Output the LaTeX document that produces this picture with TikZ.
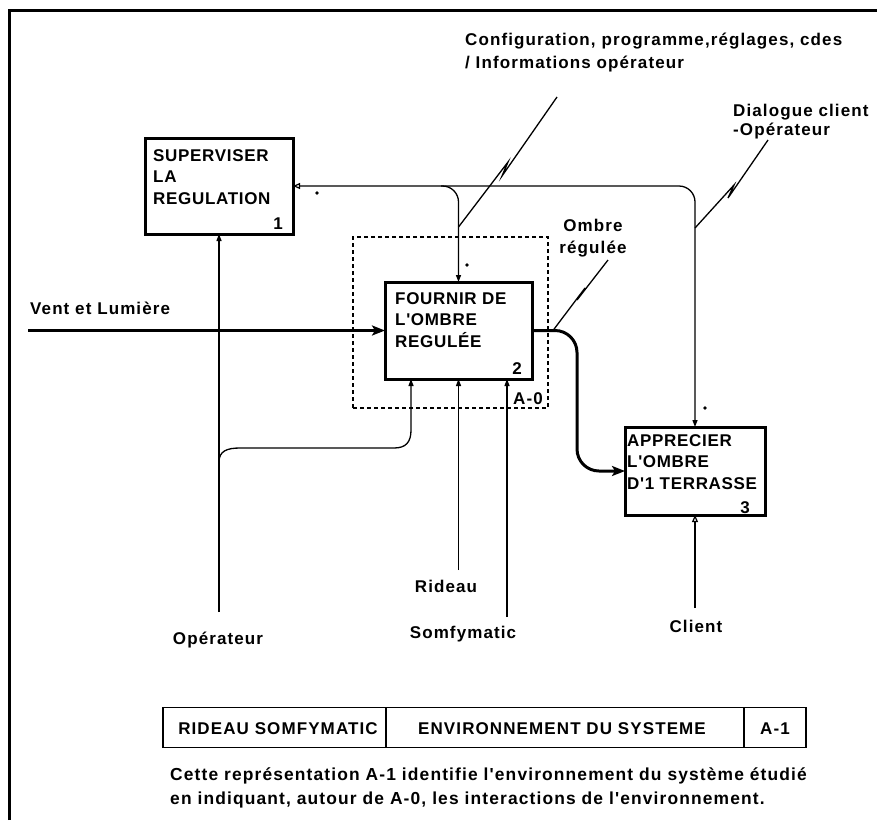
\documentclass[tikz,border=0pt]{standalone}
\usepackage{fontspec}
\setmainfont{Liberation Sans}
\newfontfamily\lf[LetterSpace=6.5]{Liberation Sans}
\newfontfamily\bxf[LetterSpace=4]{Liberation Sans}
\usetikzlibrary{arrows.meta,calc}
\begin{document}
\begin{tikzpicture}[x=1pt,y=-1pt,
  box/.style={draw,line width=3pt,inner sep=0pt,outer sep=0pt,fill=white},
  abox/.style={draw,line width=1.4pt,dash pattern=on 4pt off 3pt,inner sep=0pt,outer sep=0pt},
  btxt/.style={font=\bxf\bfseries\fontsize{17}{21.5}\selectfont,align=left,inner sep=0pt},
  lbl/.style={font=\lf\bfseries\fontsize{17}{20}\selectfont,inner sep=0pt},
  captxt/.style={font=\lf\bfseries\fontsize{17.4}{20}\selectfont,inner sep=0pt},
  ttxt/.style={font=\lf\bfseries\fontsize{17}{20}\selectfont,inner sep=0pt},
  flow/.style={draw,line width=1.3pt},
  thickflow/.style={draw,line width=3pt},
  tip/.style={-{Triangle[length=7pt,width=5pt]}},
  otip/.style={-{Triangle[open,length=7pt,width=6pt,line width=1.2pt]}},
  bigtip/.style={-{Stealth[length=13pt,width=10pt,inset=3pt]}},
  zig/.style={draw,line width=1.3pt,line join=miter},
  dot/.style={fill=black}
]
\useasboundingbox (0,0) rectangle (877,820);
\fill[white] (0,0) rectangle (877,820);
% frame
\draw[line width=3pt] (9,820) -- (9,10) -- (877,10);

% A-0 dashed context
\node[abox,minimum width=195pt,minimum height=171pt] (a0) at (450.5,322.5) {};

% boxes
\node[box,minimum width=148pt,minimum height=96pt] (b1) at (219,186) {};
\node[box,minimum width=147pt,minimum height=97pt] (b2) at (458.5,330.5) {};
\node[box,minimum width=140pt,minimum height=88pt] (b3) at (695,471) {};

\node[btxt,anchor=north west] (t1) at (153,149) {SUPERVISER\\LA\\REGULATION};
\node[btxt,anchor=north west] (t2) at (395,292) {FOURNIR DE\\L'OMBRE\\REGULÉE};
\node[btxt,anchor=north west] (t3) at (627,434) {APPRECIER\\L'OMBRE\\D'1 TERRASSE};
\node[btxt,anchor=base] (n1) at (278,229) {1};
\node[btxt,anchor=base] (n2) at (517,374) {2};
\node[btxt,anchor=base] (n3) at (745,513) {3};
\node[lbl,anchor=base] (na0) at (528,404) {A-0};

% labels
\node[lbl,anchor=base west] (lcfg1) at (465,45) {Configuration, programme,réglages, cdes};
\node[lbl,anchor=base west] (lcfg2) at (465,68) {/ Informations opérateur};
\node[lbl,anchor=base west] (ldia1) at (733,116) {Dialogue client};
\node[lbl,anchor=base west] (ldia2) at (733,135) {-Opérateur};
\node[lbl,anchor=base] (lomb1) at (593,231) {Ombre};
\node[lbl,anchor=base] (lomb2) at (593,253) {régulée};
\node[lbl,anchor=base west] (lvent) at (30,314) {Vent et Lumière};
\node[lbl,anchor=base] (lop) at (218,644) {Opérateur};
\node[lbl,anchor=base] (lrid) at (446,592) {Rideau};
\node[lbl,anchor=base] (lsom) at (463,638) {Somfymatic};
\node[lbl,anchor=base] (lcli) at (696,632) {Client};

% coordinates
\coordinate (jA) at (441,186);
\coordinate (opEnd) at (219,612);
\coordinate (opJ) at (219,462);
\coordinate (b2in1) at ($(b2.south west)+(26,0)$);
\coordinate (rdEnd) at (458.5,570);
\coordinate (smEnd) at (507,617);
\coordinate (b2in3) at ($(b2.south west)+(122,0)$);
\coordinate (clEnd) at (695,608);
\coordinate (vlStart) at (28,330.5);
\coordinate (z1s) at (557,97);
\coordinate (z1e) at (458.5,227);
\coordinate (z2s) at (768,140);
\coordinate (z2e) at (695,228);
\coordinate (z3s) at (608,260);
\coordinate (z3e) at (553,330.5);

% control / feedback lines
\draw[flow,{Triangle[open,length=7pt,width=6pt,line width=1.2pt]}-{Triangle[length=7pt,width=5pt]},rounded corners=16pt] (b1.east) -| (b3.north);
\draw[flow,tip,rounded corners=16pt] (jA) -| (b2.north);

% mechanisms
\draw[flow,tip] (opEnd) -- (b1.south);
\draw[flow,tip] (opJ) .. controls (219,451) and (227,448) .. (240,448) -- (394,448) .. controls (406,448) and (411,442) .. (411,430) -- (b2in1);
\draw[flow,tip] (rdEnd) -- (b2.south);
\draw[flow,tip] (smEnd) -- (b2in3);
\draw[flow,otip] (clEnd) -- (b3.south);

% inputs / outputs
\draw[thickflow,bigtip] (vlStart) -- (b2.west);
\draw[thickflow,bigtip,rounded corners=22pt] (b2.east) -- (577,330.5) -- (577,471) -- (b3.west);

% squiggles
\draw[zig] (z1s) -- (502,176) -- (508,162) -- (z1e);
\draw[zig] (z2s) -- (728,198) -- (734,185) -- (z2e);
\draw[zig] (z3s) -- (577,300) -- (585,288) -- (z3e);

% tunnel dots
\fill[dot] (317,193) circle (1.8);
\fill[dot] (467,265) circle (1.8);
\fill[dot] (705,408) circle (1.8);

% title block
\node[draw,line width=1.5pt,minimum width=223pt,minimum height=40pt,inner sep=0pt,outer sep=0pt] (tb1) at (274.5,727.5) {};
\node[draw,line width=1.5pt,minimum width=358pt,minimum height=40pt,inner sep=0pt,outer sep=0pt] (tb2) at (565,727.5) {};
\node[draw,line width=1.5pt,minimum width=62pt,minimum height=40pt,inner sep=0pt,outer sep=0pt] (tb3) at (775,727.5) {};
\node[ttxt,anchor=base] (tt1) at (278,734) {RIDEAU SOMFYMATIC};
\node[ttxt,anchor=base] (tt2) at (562,734) {ENVIRONNEMENT DU SYSTEME};
\node[ttxt,anchor=base] (tt3) at (775,734) {A-1};

% caption
\node[captxt,anchor=base west] (cap1) at (170,780) {Cette représentation A-1 identifie l'environnement du système étudié};
\node[captxt,anchor=base west] (cap2) at (170,804) {en indiquant, autour de A-0, les interactions de l'environnement.};
\end{tikzpicture}
\end{document}
